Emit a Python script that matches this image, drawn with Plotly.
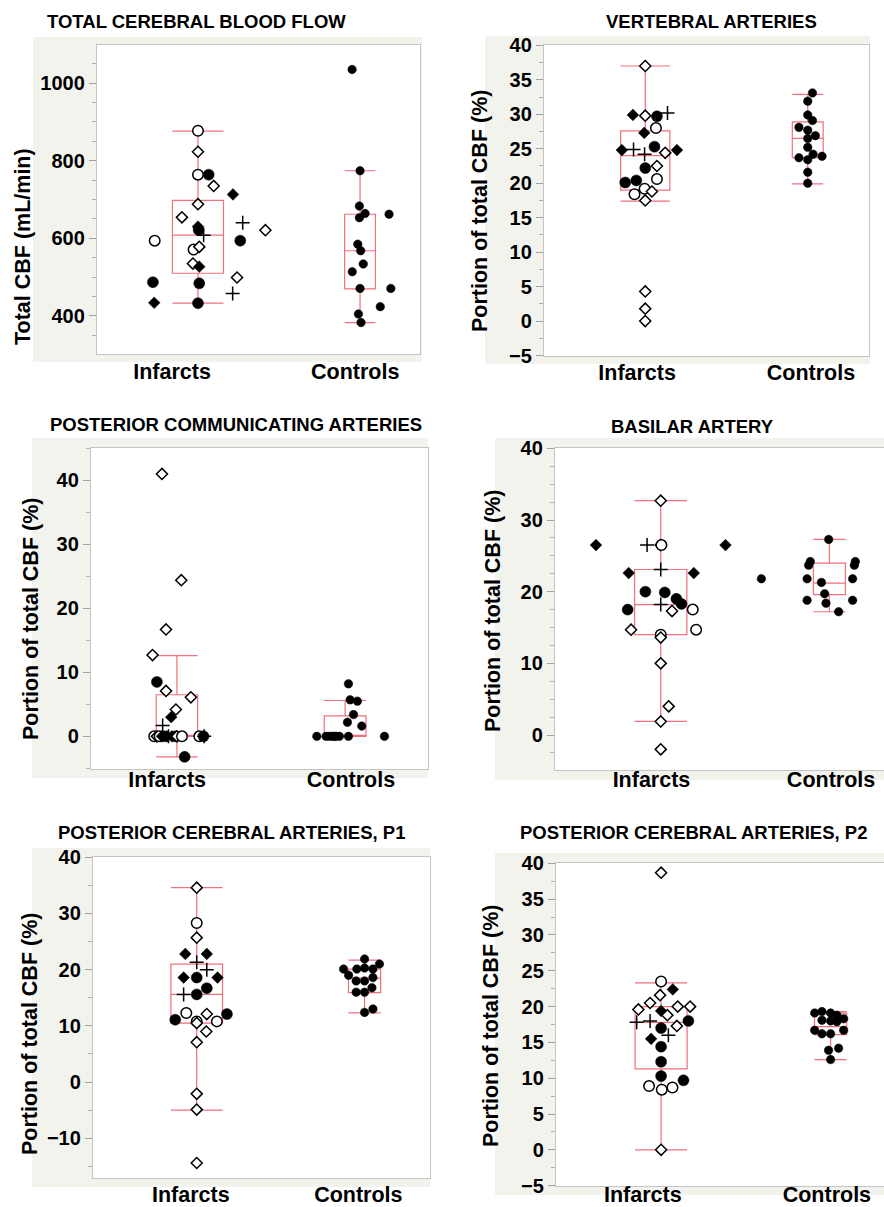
import plotly.graph_objects as go

W, H = 884, 1207
GROUPS = ["Infarcts", "Controls"]

# ---------------- DATA ----------------
# kinds: fc = filled circle, oc = open circle, fd = filled diamond, od = open diamond, plus = plus sign
# box stats: [lower whisker, q1, median, q3, upper whisker]

# Panel 1: Total cerebral blood flow (mL/min)
tcbf_inf_val = [877, 823, 764, 764, 735, 713, 688, 654, 640, 621, 622, 630, 608, 594, 594, 571, 578, 535, 527, 487, 484, 499, 458, 434, 433]
tcbf_inf_kind = ["oc", "od", "oc", "fc", "od", "fd", "od", "od", "plus", "od", "fc", "fd", "plus", "oc", "fc", "oc", "od", "od", "fd", "fc", "fc", "od", "plus", "fd", "fc"]
tcbf_inf_jit = [0, 0, 0, 0.066, 0.097, 0.216, 0, -0.099, 0.276, 0.416, 0.004, 0, 0.035, -0.267, 0.261, -0.027, 0.008, -0.031, 0.008, -0.278, 0.008, 0.241, 0.214, -0.27, 0]
tcbf_ctl_val = [1035, 774, 683, 664, 653, 662, 585, 568, 534, 514, 471, 471, 424, 405, 383]
tcbf_ctl_jit = [-0.049, 0, -0.004, 0.031, -0.004, 0.179, -0.014, 0.004, 0.02, -0.048, 0, 0.19, 0.125, -0.01, 0.006]
tcbf_inf_box = [433, 510, 608, 698, 876]
tcbf_ctl_box = [383, 470, 568, 662, 774]

# Panel 2: Vertebral arteries (% of total CBF)
vert_inf_val = [37.0, 29.9, 29.8, 29.7, 30.2, 28.0, 27.3, 24.8, 24.9, 25.3, 24.4, 24.8, 24.2, 22.2, 22.5, 20.1, 20.4, 20.6, 18.4, 19.2, 18.8, 17.5, 4.3, 1.8, 0.0]
vert_inf_kind = ["od", "fd", "od", "fc", "plus", "oc", "fd", "fd", "plus", "fc", "od", "fd", "plus", "fc", "od", "fc", "fc", "oc", "oc", "oc", "od", "od", "od", "od", "od"]
vert_inf_jit = [0, -0.076, 0, 0.072, 0.137, 0.066, -0.006, -0.144, -0.072, 0.057, 0.123, 0.195, -0.004, 0, 0.072, -0.123, -0.055, 0.072, -0.066, -0.004, 0.041, 0, 0, 0, 0]
vert_ctl_val = [33.1, 31.9, 29.9, 29.1, 28.1, 27.7, 26.9, 26.5, 25.2, 23.7, 24.2, 23.9, 23.4, 21.6, 20.0]
vert_ctl_jit = [0.029, 0, 0, 0.029, -0.054, 0, 0.047, 0, 0, -0.054, 0.033, 0.088, 0, 0, 0]
vert_inf_box = [17.4, 19.0, 24.0, 27.6, 37.0]
vert_ctl_box = [19.9, 23.7, 26.5, 28.9, 32.9]

# Panel 3: Posterior communicating arteries
pcom_inf_val = [0, 0, 0, 0, 0, 0, 0, 0, 0, 0, 0, 0, 0, 0, 41.0, 24.4, 16.7, 12.7, 8.5, 7.1, 6.1, 4.2, 3.0, 1.7, -3.2]
pcom_inf_kind = ["oc", "od", "oc", "fd", "fc", "fd", "plus", "fd", "fc", "od", "oc", "oc", "fc", "plus", "od", "od", "od", "od", "fc", "od", "od", "od", "fd", "plus", "fc"]
pcom_inf_jit = [-0.135, -0.119, -0.103, -0.089, -0.075, -0.059, -0.05, -0.03, -0.01, 0, 0.03, 0.133, 0.158, 0.162, -0.089, 0.026, -0.065, -0.145, -0.119, -0.065, 0.083, -0.006, -0.034, -0.085, 0.046]
pcom_ctl_val = [8.2, 5.7, 5.5, 3.4, 2.2, 1.6, 0, 0, 0, 0, 0, 0, 0, 0, 0]
pcom_ctl_jit = [0.02, 0.03, 0.073, 0.05, 0.014, 0.099, -0.168, -0.113, -0.093, -0.073, -0.063, -0.053, -0.034, 0.02, 0.234]
pcom_inf_box = [-3.2, 0, 0, 6.5, 12.6]
pcom_ctl_box = [0, 0, 0, 3.2, 5.6]

# Panel 4: Basilar artery
bas_inf_val = [32.7, 26.5, 26.5, 26.5, 26.5, 26.5, 23.1, 22.6, 22.6, 20.0, 19.9, 19.0, 18.3, 18.2, 17.5, 17.5, 17.3, 14.7, 14.7, 14.0, 13.6, 10.0, 4.0, 1.9, -2.0]
bas_inf_kind = ["od", "fd", "plus", "od", "oc", "fd", "plus", "fd", "fd", "fc", "fc", "fc", "fc", "plus", "fc", "oc", "od", "od", "oc", "oc", "od", "od", "od", "od", "od"]
bas_inf_jit = [0, -0.384, -0.081, 0, 0.004, 0.384, 0, -0.19, 0.196, -0.091, 0.024, 0.093, 0.123, 0, -0.196, 0.19, 0.067, -0.176, 0.21, 0, 0, 0, 0.047, 0, 0]
bas_ctl_val = [27.3, 24.2, 23.7, 24.2, 23.7, 21.8, 21.8, 21.8, 21.3, 19.7, 18.8, 18.8, 18.4, 17.2]
bas_ctl_jit = [-0.004, -0.113, -0.123, 0.154, 0.148, -0.403, -0.132, 0.138, -0.047, -0.028, -0.132, 0.138, -0.02, 0.055]
bas_inf_box = [1.9, 14.0, 18.2, 23.1, 32.7]
bas_ctl_box = [17.2, 19.6, 21.2, 24.0, 27.3]

# Panel 5: Posterior cerebral arteries, P1
p1_inf_val = [34.6, 28.3, 25.7, 22.8, 22.8, 21.3, 20.0, 18.6, 18.6, 18.6, 16.7, 15.6, 15.6, 12.3, 12.1, 12.1, 11.1, 10.8, 10.8, 10.5, 9.0, 7.1, -2.1, -4.9, -14.4]
p1_inf_kind = ["od", "oc", "od", "fd", "fd", "plus", "plus", "fd", "fc", "fd", "fc", "fc", "plus", "oc", "od", "fc", "fc", "oc", "oc", "od", "od", "od", "od", "od", "od"]
p1_inf_jit = [0, 0, 0, -0.068, 0.06, 0, 0.06, -0.078, 0, 0.124, 0.06, 0, -0.078, -0.062, 0.06, 0.18, -0.128, 0, 0.12, 0, 0.057, 0, 0, 0, 0]
p1_ctl_val = [21.9, 21.0, 20.1, 20.1, 20.3, 20.1, 19.0, 18.0, 18.0, 18.6, 16.0, 16.0, 16.8, 12.4, 13.0]
p1_ctl_jit = [0, 0.089, -0.125, -0.046, 0, 0.05, -0.095, -0.05, 0, 0.05, -0.05, 0, 0.044, 0, 0.05]
p1_inf_box = [-5.0, 10.5, 15.6, 21.0, 34.6]
p1_ctl_box = [12.3, 15.9, 18.5, 20.1, 21.7]

# Panel 6: Posterior cerebral arteries, P2
p2_inf_val = [38.7, 23.5, 22.4, 21.6, 20.5, 19.6, 20.0, 20.0, 19.4, 18.8, 17.8, 18.0, 18.0, 17.3, 17.0, 15.5, 16.0, 14.4, 12.3, 10.3, 9.7, 8.9, 8.4, 8.7, 0.0]
p2_inf_kind = ["od", "oc", "fd", "od", "od", "od", "od", "od", "fd", "od", "plus", "plus", "fc", "od", "fc", "fd", "plus", "fc", "fc", "fc", "fc", "oc", "oc", "oc", "od"]
p2_inf_jit = [0, 0, 0.069, -0.006, -0.065, -0.134, 0.098, 0.171, 0, 0.037, -0.144, -0.065, 0.161, 0.093, 0, -0.059, 0.043, 0, 0, 0, 0.132, -0.071, 0.004, 0.067, 0]
p2_ctl_val = [19.1, 19.3, 19.1, 18.8, 18.1, 18.0, 17.9, 18.3, 16.7, 16.2, 16.2, 16.7, 13.9, 14.2, 12.6]
p2_ctl_jit = [-0.094, -0.051, 0, 0.037, -0.051, 0, 0.037, 0.077, -0.094, -0.051, 0, 0.077, -0.012, 0.047, 0]
p2_inf_box = [0.0, 11.3, 17.8, 20.0, 23.3]
p2_ctl_box = [12.6, 16.1, 17.2, 19.1, 19.3]

TITLES = ["TOTAL CEREBRAL BLOOD FLOW", "VERTEBRAL ARTERIES", "POSTERIOR COMMUNICATING ARTERIES",
          "BASILAR ARTERY", "POSTERIOR CEREBRAL ARTERIES, P1", "POSTERIOR CEREBRAL ARTERIES, P2"]
YTITLES = ["Total CBF (mL/min)"] + ["Portion of total CBF (%)"] * 5

# ---------------- LAYOUT / STYLE ----------------
FONT = "Liberation Sans, Arial, Helvetica, sans-serif"
RED = "#f0707c"
FRAME = "#f3f3ee"
AXLINE = "#c4c4c4"

STYLE = {
    "fc": dict(symbol="circle", color="black", size=11, lc="black", lw=0.5),
    "oc": dict(symbol="circle", color="white", size=10.5, lc="black", lw=1.5),
    "fd": dict(symbol="diamond", color="black", size=9, lc="black", lw=0.5),
    "od": dict(symbol="diamond", color="white", size=8.5, lc="black", lw=1.5),
    "plus": dict(symbol="cross-thin", color="black", size=10, lc="black", lw=1.5),
    "ctl": dict(symbol="circle", color="black", size=8.5, lc="black", lw=0.5),
}

# pixel geometry of each panel (layout)
PANELS = [
    dict(plot=(97, 45, 420, 354), frame=(33, 37, 422, 362), xr=(-0.623, 1.370), lab=(-0.16, 0.97),
         bw=(0.315, 0.19), yr=(302, 1098), dt=200, mdt=50, title=(196, 21.7), ytit=(23, 247), lso=-2,
         data=(tcbf_inf_val, tcbf_inf_kind, tcbf_inf_jit, tcbf_ctl_val, tcbf_ctl_jit, tcbf_inf_box, tcbf_ctl_box)),
    dict(plot=(544, 45, 869, 356), frame=(485, 36, 870, 364), xr=(-0.623, 1.377), lab=(-0.05, 1.02),
         bw=(0.303, 0.19), yr=(-5.07, 40.05), dt=5, mdt=2.5, title=(711, 21.7), ytit=(480, 211), lso=-3,
         data=(vert_inf_val, vert_inf_kind, vert_inf_jit, vert_ctl_val, vert_ctl_jit, vert_inf_box, vert_ctl_box)),
    dict(plot=(91, 448, 428, 769), frame=(32, 438, 428, 778), xr=(-0.511, 1.493), lab=(-0.058, 1.035),
         bw=(0.246, 0.248), yr=(-5.1, 45.05), dt=10, mdt=5, title=(236, 425), ytit=(31, 619), lso=-9,
         data=(pcom_inf_val, pcom_inf_kind, pcom_inf_jit, pcom_ctl_val, pcom_ctl_jit, pcom_inf_box, pcom_ctl_box)),
    dict(plot=(555, 448, 884, 770), frame=(495, 438, 884, 780), xr=(-0.627, 1.324), lab=(-0.055, 1.01),
         bw=(0.31, 0.19), yr=(-4.88, 40.05), dt=10, mdt=2.5, title=(692, 426), ytit=(493, 611), lso=-10,
         data=(bas_inf_val, bas_inf_kind, bas_inf_jit, bas_ctl_val, bas_ctl_jit, bas_inf_box, bas_ctl_box)),
    dict(plot=(93, 857, 430, 1178), frame=(32, 848, 430, 1187), xr=(-0.618, 1.39), lab=(-0.035, 0.963),
         bw=(0.308, 0.192), yr=(-17.07, 40.05), dt=10, mdt=5, title=(231, 832), ytit=(30, 1034), lso=-3,
         data=(p1_inf_val, p1_inf_kind, p1_inf_jit, p1_ctl_val, p1_ctl_jit, p1_inf_box, p1_ctl_box)),
    dict(plot=(556, 863, 884, 1186), frame=(495, 853, 884, 1195), xr=(-0.62, 1.315), lab=(-0.108, 0.978),
         bw=(0.307, 0.19), yr=(-5.05, 40.05), dt=5, mdt=2.5, title=(693, 832), ytit=(491, 1026), lso=-11,
         data=(p2_inf_val, p2_inf_kind, p2_inf_jit, p2_ctl_val, p2_ctl_jit, p2_inf_box, p2_ctl_box)),
]


def px(x):
    return x / W


def py(y):
    return 1 - y / H


fig = go.Figure()
shapes = []
annotations = []
layout_axes = {}

for i, p in enumerate(PANELS, start=1):
    xa = "x" if i == 1 else f"x{i}"
    ya = "y" if i == 1 else f"y{i}"
    inf_val, inf_kind, inf_jit, ctl_val, ctl_jit, inf_box, ctl_box = p["data"]

    # boxes
    for pos, b, w in ((0, inf_box, p["bw"][0]), (1, ctl_box, p["bw"][1])):
        fig.add_trace(go.Box(
            x=[pos], lowerfence=[b[0]], q1=[b[1]], median=[b[2]], q3=[b[3]], upperfence=[b[4]],
            width=w, whiskerwidth=1, boxpoints=False,
            line=dict(color=RED, width=1.2), fillcolor="rgba(0,0,0,0)",
            xaxis=xa, yaxis=ya, showlegend=False, hoverinfo="skip"))

    # points
    kinds = list(inf_kind) + ["ctl"] * len(ctl_val)
    xs = [0 + j for j in inf_jit] + [1 + j for j in ctl_jit]
    ys = list(inf_val) + list(ctl_val)
    fig.add_trace(go.Scatter(
        x=xs, y=ys, mode="markers", xaxis=xa, yaxis=ya, showlegend=False, hoverinfo="y",
        marker=dict(symbol=[STYLE[k]["symbol"] for k in kinds],
                    color=[STYLE[k]["color"] for k in kinds],
                    size=[STYLE[k]["size"] for k in kinds],
                    opacity=1,
                    line=dict(color=[STYLE[k]["lc"] for k in kinds],
                              width=[STYLE[k]["lw"] for k in kinds]))))

    L, T, R, B = p["plot"]
    fL, fT, fR, fB = p["frame"]
    shapes.append(dict(type="rect", xref="paper", yref="paper", x0=px(fL), x1=px(fR), y0=py(fB), y1=py(fT),
                       fillcolor=FRAME, line=dict(width=0), layer="below"))
    shapes.append(dict(type="rect", xref="paper", yref="paper", x0=px(L), x1=px(R), y0=py(B), y1=py(T),
                       fillcolor="white", line=dict(width=0), layer="below"))

    layout_axes["xaxis" if i == 1 else f"xaxis{i}"] = dict(
        domain=[px(L), min(px(R), 1.0)], anchor=ya, range=list(p["xr"]), automargin=False,
        tickmode="array", tickvals=list(p["lab"]), ticktext=GROUPS, ticks="", ticklabelstandoff=p["lso"],
        showgrid=False, zeroline=False, showline=True, mirror=True, linecolor=AXLINE, linewidth=1.3,
        tickfont=dict(family=FONT, size=21.5, color="black", weight="bold"), fixedrange=True)
    layout_axes["yaxis" if i == 1 else f"yaxis{i}"] = dict(
        domain=[py(B), py(T)], anchor=xa, range=list(p["yr"]), automargin=False,
        tick0=0, dtick=p["dt"], ticks="outside", ticklen=7, tickwidth=1, tickcolor="#a0a0a0",
        minor=dict(dtick=p["mdt"], tick0=0, ticks="outside", ticklen=4, tickcolor="#b0b0b0", showgrid=False),
        showgrid=False, zeroline=False, showline=True, mirror=True, linecolor=AXLINE, linewidth=1.3,
        tickfont=dict(family=FONT, size=20, color="black", weight="bold"), fixedrange=True)

    annotations.append(dict(text=TITLES[i - 1], xref="paper", yref="paper", x=px(p["title"][0]), y=py(p["title"][1]),
                            xanchor="center", yanchor="middle", showarrow=False,
                            font=dict(family=FONT, size=18.5, color="black", weight="bold")))
    annotations.append(dict(text=YTITLES[i - 1], xref="paper", yref="paper", x=px(p["ytit"][0]), y=py(p["ytit"][1]),
                            xanchor="center", yanchor="middle", showarrow=False, textangle=-90,
                            font=dict(family=FONT, size=21.5, color="black", weight="bold")))

fig.update_layout(
    template="none",
    width=W, height=H, margin=dict(l=0, r=0, t=0, b=0, pad=0, autoexpand=False),
    paper_bgcolor="white", plot_bgcolor="white",
    shapes=shapes, annotations=annotations, boxmode="overlay", showlegend=False,
    font=dict(family=FONT, color="black"),
    **layout_axes)

fig.write_html("out.html",
               config={"displayModeBar": False, "staticPlot": False},
               post_script="document.body.style.margin='0px';document.body.style.padding='0px';"
                           "document.body.style.overflow='hidden';")
